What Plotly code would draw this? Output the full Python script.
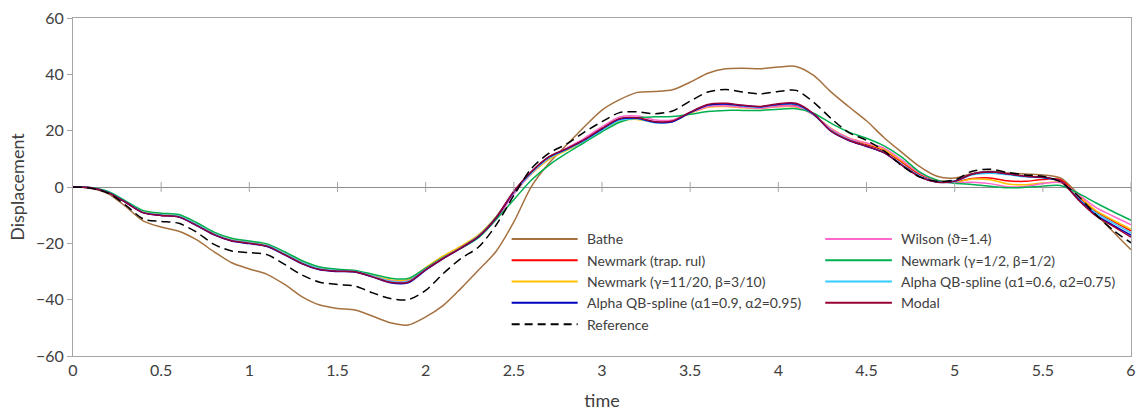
import plotly.graph_objects as go

# sample times (s)
time = [0.0, 0.1, 0.2, 0.3, 0.4, 0.5, 0.6, 0.7, 0.8, 0.9,
        1.0, 1.1, 1.2, 1.3, 1.4, 1.5, 1.6, 1.7, 1.8, 1.9,
        2.0, 2.1, 2.2, 2.3, 2.4, 2.5, 2.6, 2.7, 2.8, 2.9,
        3.0, 3.1, 3.2, 3.3, 3.4, 3.5, 3.6, 3.7, 3.8, 3.9,
        4.0, 4.1, 4.2, 4.3, 4.4, 4.5, 4.6, 4.7, 4.8, 4.9,
        5.0, 5.1, 5.2, 5.3, 5.4, 5.5, 5.6, 5.7, 5.8, 5.9, 6.0]

bathe = [0, -0.5, -2.4, -7.0, -12.1, -14.2, -15.7, -18.7, -23.0, -26.9,
         -29.1, -31.0, -34.6, -39.0, -41.9, -43.1, -43.7, -45.9, -48.2, -49.0,
         -46.1, -42.0, -36.0, -29.5, -22.8, -12.4, 0.2, 8.5, 15.0, 21.4,
         27.3, 31.0, 33.6, 33.9, 34.5, 37.2, 40.4, 42.0, 42.2, 42.0,
         42.6, 42.8, 39.6, 33.7, 28.5, 23.5, 17.5, 12.3, 7.3, 3.8,
         3.2, 4.8, 5.6, 5.0, 4.6, 4.3, 3.2, -2.5, -9.5, -16.0, -22.3]

newmark_trap = [0, -0.3, -1.9, -5.4, -9.0, -10.0, -10.5, -13.4, -16.8, -19.0,
                -19.9, -20.9, -23.8, -27.0, -29.1, -29.8, -30.1, -31.8, -33.4, -33.3,
                -29.0, -25.0, -21.4, -17.3, -10.7, -2.0, 5.0, 10.2, 13.2, 16.4,
                20.3, 23.8, 24.2, 23.0, 23.4, 26.5, 28.9, 29.2, 28.6, 28.3,
                29.1, 29.0, 25.7, 20.3, 17.0, 15.0, 12.8, 8.8, 4.5, 2.2,
                1.8, 3.0, 3.2, 2.2, 2.0, 2.7, 2.6, -3.2, -8.7, -12.2, -15.6]

newmark_11_20 = [0, -0.3, -1.9, -5.3, -8.8, -9.8, -10.3, -13.1, -16.5, -18.7,
                 -19.6, -20.6, -23.5, -26.6, -28.7, -29.5, -29.8, -31.5, -33.0, -32.9,
                 -28.6, -24.5, -21.0, -17.0, -10.5, -2.2, 4.6, 9.8, 13.0, 16.2,
                 20.0, 23.4, 24.0, 23.0, 23.4, 26.2, 28.3, 28.6, 28.1, 27.9,
                 28.5, 28.4, 25.6, 20.7, 17.4, 15.5, 13.3, 9.3, 5.0, 2.4,
                 1.7, 2.8, 2.6, 1.1, 0.8, 1.4, 1.6, -3.0, -8.3, -11.8, -15.0]

alpha_09 = [0, -0.3, -2.0, -5.5, -9.2, -10.1, -10.7, -13.7, -17.0, -19.2,
            -20.1, -21.1, -24.1, -27.3, -29.4, -30.0, -30.2, -32.0, -34.0, -34.0,
            -29.5, -25.4, -21.7, -17.6, -10.9, -1.7, 5.4, 10.7, 13.5, 16.7,
            20.6, 24.1, 24.4, 23.0, 23.2, 26.4, 29.1, 29.5, 28.9, 28.5,
            29.4, 29.5, 25.9, 19.7, 16.5, 14.4, 12.1, 7.8, 3.7, 1.8,
            2.1, 4.6, 5.3, 4.7, 3.8, 3.4, 2.1, -4.3, -9.9, -13.6, -17.1]

wilson = [0, -0.3, -1.9, -5.4, -9.0, -10.0, -10.5, -13.3, -16.7, -18.9,
          -19.8, -20.8, -23.7, -26.9, -29.0, -29.6, -29.8, -31.7, -33.4, -33.4,
          -29.2, -25.3, -21.8, -17.8, -11.5, -2.5, 4.8, 10.3, 13.8, 17.3,
          21.4, 24.9, 25.2, 23.8, 23.8, 26.4, 28.5, 28.8, 28.3, 28.0,
          28.6, 28.6, 25.6, 20.6, 17.3, 15.6, 13.8, 9.6, 5.0, 2.3,
          1.5, 1.7, 1.2, 0.1, 0.2, 1.2, 1.6, -2.6, -7.2, -10.4, -13.4]

newmark_half = [0, -0.2, -1.6, -5.0, -8.4, -9.3, -9.8, -12.6, -16.0, -18.2,
                -19.2, -20.2, -23.0, -26.2, -28.4, -29.2, -29.6, -31.0, -32.4, -32.5,
                -28.8, -25.0, -21.8, -18.0, -11.5, -4.5, 2.5, 7.8, 12.0, 15.8,
                19.6, 23.0, 24.6, 24.9, 25.0, 25.8, 26.8, 27.2, 27.2, 27.2,
                27.6, 27.8, 26.2, 22.6, 19.5, 17.3, 14.6, 10.6, 5.4, 2.4,
                1.3, 0.9, 0.3, -0.3, -0.1, 0.3, 0.5, -2.2, -5.6, -8.8, -11.8]

alpha_06 = [0, -0.3, -1.9, -5.4, -9.0, -9.9, -10.4, -13.3, -16.7, -18.9,
            -19.8, -20.8, -23.7, -26.9, -29.0, -29.7, -30.0, -31.7, -33.5, -33.5,
            -29.2, -25.2, -21.5, -17.3, -10.6, -1.9, 5.0, 10.3, 13.3, 16.4,
            20.2, 23.7, 24.2, 22.8, 23.2, 26.5, 29.0, 29.4, 28.7, 28.4,
            29.3, 29.3, 25.8, 20.0, 16.8, 14.6, 12.3, 8.0, 3.9, 1.8,
            1.9, 4.3, 4.9, 4.4, 3.6, 3.3, 2.0, -4.0, -9.2, -12.8, -16.3]

modal = [0, -0.3, -2.0, -5.5, -9.2, -10.1, -10.6, -13.6, -16.9, -19.1,
         -20.0, -21.0, -24.0, -27.2, -29.3, -29.9, -30.1, -31.9, -33.8, -33.8,
         -29.3, -25.3, -21.6, -17.5, -10.8, -1.5, 5.5, 10.8, 13.6, 16.8,
         20.8, 24.3, 24.6, 23.2, 23.4, 26.6, 29.3, 29.7, 29.0, 28.6,
         29.6, 29.7, 26.0, 19.8, 16.6, 14.5, 12.2, 7.8, 3.6, 1.7,
         2.0, 4.6, 5.3, 4.7, 3.8, 3.5, 2.1, -4.5, -10.2, -14.0, -17.8]

reference = [0, -0.4, -2.2, -6.5, -11.4, -12.2, -12.9, -16.0, -20.4, -22.7,
             -23.3, -24.0, -27.5, -31.3, -33.8, -34.6, -35.2, -37.6, -39.6, -40.0,
             -36.7, -30.7, -25.4, -21.3, -13.5, -3.0, 6.6, 12.0, 15.3, 19.5,
             23.2, 26.4, 26.7, 26.0, 27.0, 30.5, 33.7, 34.6, 33.7, 33.1,
             33.9, 34.3, 30.1, 24.3, 19.3, 16.6, 12.8, 7.6, 3.6, 2.0,
             2.5, 5.6, 6.3, 5.2, 4.3, 3.8, 1.8, -3.2, -9.8, -15.4, -19.8]

x_ticks = [0, 0.5, 1, 1.5, 2, 2.5, 3, 3.5, 4, 4.5, 5, 5.5, 6]
x_tick_text = ["0", "0.5", "1", "1.5", "2", "2.5", "3", "3.5", "4", "4.5", "5", "5.5", "6"]
y_ticks = [-60, -40, -20, 0, 20, 40, 60]

# (name, values, colour, dash) in drawing order; legend columns listed separately
series = [
    ("Bathe", bathe, "#A5713F", "solid"),
    ("Newmark (trap. rul)", newmark_trap, "#FF0000", "solid"),
    ("Newmark (γ=11/20, β=3/10)", newmark_11_20, "#FFC000", "solid"),
    ("Wilson (ϑ=1.4)", wilson, "#FF66CC", "solid"),
    ("Newmark (γ=1/2, β=1/2)", newmark_half, "#00B050", "solid"),
    ("Alpha QB-spline (α1=0.6, α2=0.75)", alpha_06, "#33CCFF", "solid"),
    ("Alpha QB-spline (α1=0.9, α2=0.95)", alpha_09, "#0000C0", "solid"),
    ("Modal", modal, "#990033", "solid"),
    ("Reference", reference, "#000000", "9px,5px"),
]
legend_left = ["Bathe", "Newmark (trap. rul)", "Newmark (γ=11/20, β=3/10)",
               "Alpha QB-spline (α1=0.9, α2=0.95)", "Reference"]
legend_right = ["Wilson (ϑ=1.4)", "Newmark (γ=1/2, β=1/2)",
                "Alpha QB-spline (α1=0.6, α2=0.75)", "Modal"]

FONT = "Lato, 'Noto Sans', sans-serif"
TEXT = "#404040"
AXIS = "#A6A6A6"

fig = go.Figure()
style = {}
for name, vals, color, dash in series:
    style[name] = (color, dash)
    fig.add_trace(go.Scatter(
        x=time, y=vals, name=name, mode="lines",
        line=dict(color=color, width=1.5, dash=dash, shape="spline", smoothing=0.8),
        showlegend=False, hoverinfo="skip",
    ))

# tick marks crossing the zero line
shapes = []
for xt in x_ticks[1:]:
    shapes.append(dict(type="line", xref="x", yref="y", x0=xt, x1=xt,
                       ysizemode="pixel", yanchor=0, y0=-5, y1=5,
                       line=dict(color=AXIS, width=1)))

# legend: two columns drawn in paper coordinates
annotations = []
def legend_column(names, x_line0, x_line1, x_text, y_top, row_step):
    for i, nm in enumerate(names):
        color, dash = style[nm]
        y = y_top - i * row_step
        shapes.append(dict(type="line", xref="paper", yref="paper",
                           x0=x_line0, x1=x_line1, y0=y, y1=y,
                           line=dict(color=color, width=2,
                                     dash="8px,5px" if dash != "solid" else "solid")))
        annotations.append(dict(xref="paper", yref="paper", x=x_text, y=y,
                                xanchor="left", yanchor="middle", showarrow=False,
                                text=nm, font=dict(family=FONT, size=14, color=TEXT)))

legend_column(legend_left, 0.4146, 0.4770, 0.4836, 0.3462, 0.0630)
legend_column(legend_right, 0.7110, 0.7740, 0.7810, 0.3462, 0.0630)

fig.update_layout(
    width=1137, height=412,
    margin=dict(l=73, r=6, t=18, b=56),
    paper_bgcolor="white", plot_bgcolor="white",
    font=dict(family=FONT, color=TEXT),
    shapes=shapes, annotations=annotations,
    xaxis=dict(range=[0, 6], tickvals=x_ticks, ticktext=x_tick_text,
               showline=True, mirror=True, linecolor=AXIS, linewidth=1,
               ticks="", showgrid=False, zeroline=False,
               ticklabeloverflow="allow", automargin=False,
               tickfont=dict(size=16, color=TEXT),
               title=dict(text="time", font=dict(size=18, color=TEXT), standoff=16)),
    yaxis=dict(range=[-60, 60], tickvals=y_ticks,
               showline=True, mirror=True, linecolor=AXIS, linewidth=1,
               ticks="outside", ticklen=5, tickcolor=AXIS, automargin=False,
               showgrid=False, zeroline=True, zerolinecolor="#8C8C8C", zerolinewidth=1,
               tickfont=dict(size=16, color=TEXT),
               title=dict(text="Displacement", font=dict(size=18, color=TEXT), standoff=6)),
)

fig.write_html("out.html")
